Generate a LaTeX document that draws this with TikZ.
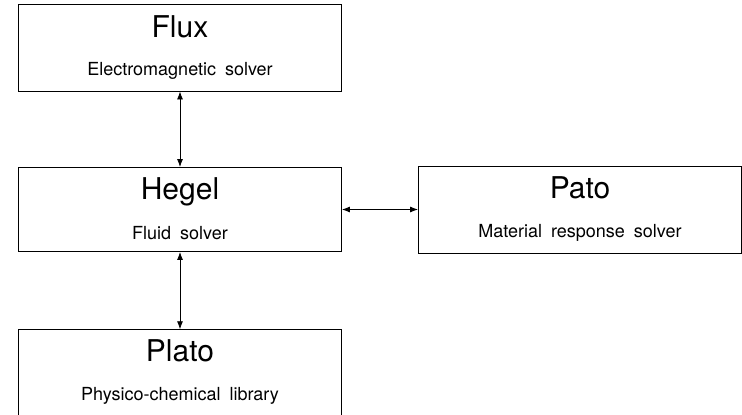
\documentclass[tikz,border=0pt]{standalone}
\usepackage{fontspec}
\setmainfont{TeX Gyre Heros}
\usetikzlibrary{arrows.meta,calc}

\newcommand\rolefont{\fontsize{18}{22}\selectfont\spaceskip=9pt\relax}

\begin{document}
\begin{tikzpicture}[x=1pt,y=-1pt,
  solver/.style={draw, line width=0.9pt, minimum width=323pt, inner sep=0pt},
  title/.style={anchor=base, inner sep=0pt, font=\fontsize{30}{36}\selectfont},
  subtitle/.style={anchor=base, inner sep=0pt},
  link/.style={{Latex[length=8pt,width=6pt]}-{Latex[length=8pt,width=6pt]}, line width=0.8pt}]

\useasboundingbox (0,0) rectangle (742,415);

\node[solver, minimum height=87pt] (flux) at (180,47.5) {};
\node[solver, minimum height=84pt] (hegel) at (180,209.5) {};
\node[solver, minimum height=87pt] (pato) at (580,209.5) {};
\node[solver, minimum height=87pt] (plato) at (180,373.2) {};

\node[title] (fluxname) at ($(flux.north)+(0,33.5)$) {Flux};
\node[subtitle] (fluxrole) at ($(flux.north)+(0,71.5)$) {\rolefont Electromagnetic solver};
\node[title] (hegelname) at ($(hegel.north)+(0,32.5)$) {Hegel};
\node[subtitle] (hegelrole) at ($(hegel.north)+(0,72.5)$) {\rolefont Fluid solver};
\node[title] (patoname) at ($(pato.north)+(0,33)$) {Pato};
\node[subtitle] (patorole) at ($(pato.north)+(0,72)$) {\rolefont Material response solver};
\node[title] (platoname) at ($(plato.north)+(0,32)$) {Plato};
\node[subtitle] (platorole) at ($(plato.north)+(0,71)$) {\rolefont Physico-chemical library};

\draw[link] (flux) -- (hegel);
\draw[link] (hegel) -- (plato);
\draw[link] (hegel) -- (pato);
\end{tikzpicture}
\end{document}
